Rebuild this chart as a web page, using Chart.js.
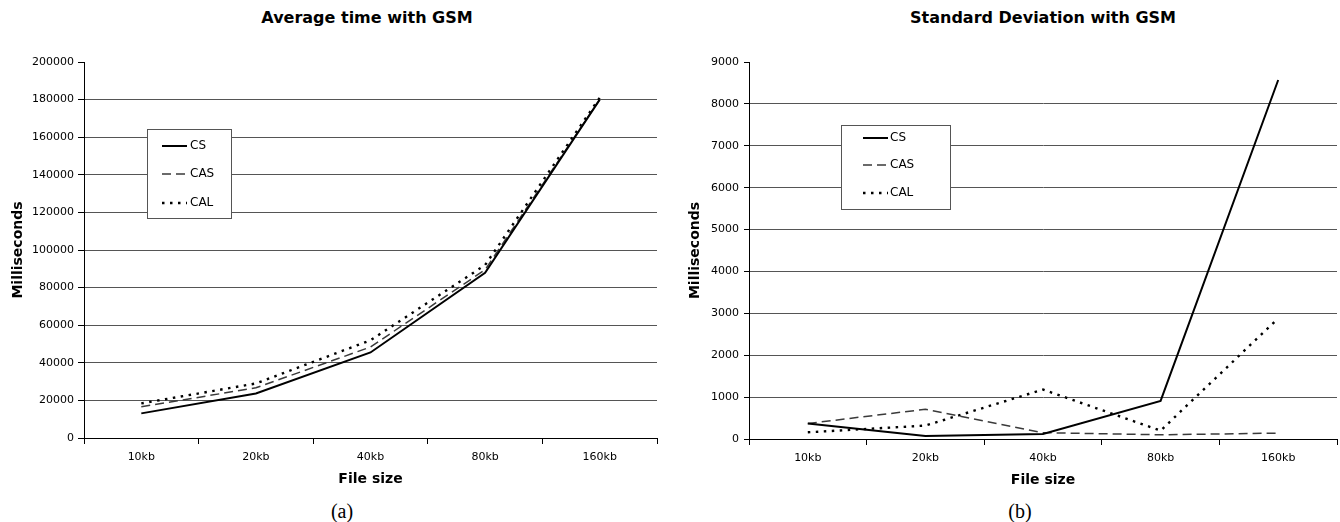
<!DOCTYPE html>
<html>
<head>
<meta charset="utf-8">
<script src="https://cdn.jsdelivr.net/npm/chart.js@4.4.1/dist/chart.umd.min.js"></script>
<style>
  html, body { margin: 0; padding: 0; background: #fff; }
  body { width: 1340px; height: 522px; position: relative; overflow: hidden; font-family: "DejaVu Sans", sans-serif; }
  .title { position: absolute; top: 8px; line-height: 20px; font-weight: bold; font-size: 16px; transform: translateX(-50%); white-space: nowrap; color: #000; }
  .cap { position: absolute; top: 500px; line-height: 22px; font-family: "Liberation Serif", "DejaVu Serif", serif; font-size: 20px; transform: translateX(-50%); color: #000; }
  .wrap { position: absolute; top: 0; width: 670px; height: 490px; }
  canvas { display: block; }
</style>
</head>
<body>
<div class="title" style="left:367px">Average time with GSM</div>
<div class="title" style="left:1043px">Standard Deviation with GSM</div>
<div class="wrap" style="left:0px"><canvas id="c1" width="670" height="490"></canvas></div>
<div class="wrap" style="left:670px"><canvas id="c2" width="670" height="490"></canvas></div>
<div class="cap" style="left:342px">(a)</div>
<div class="cap" style="left:1020px">(b)</div>
<script>
// ---- data ----
const categories = ['10kb', '20kb', '40kb', '80kb', '160kb'];
const seriesNames = ['CS', 'CAS', 'CAL'];

const avgCS  = [13100, 23700, 45500, 87900, 180000];
const avgCAS = [16600, 26700, 48400, 89500, 180000];
const avgCAL = [18400, 29000, 52000, 92000, 181000];

const sdCS  = [370, 70, 120, 910, 8570];
const sdCAS = [370, 710, 150, 100, 140];
const sdCAL = [160, 320, 1180, 200, 2880];

const avgAxis = { min: 0, max: 200000, step: 20000 };
const sdAxis  = { min: 0, max: 9000, step: 1000 };

// ---- styles ----
const seriesStyle = [
  { borderColor: '#000', borderWidth: 2, borderDash: [] },
  { borderColor: '#3a3a3a', borderWidth: 1.5, borderDash: [9, 5] },
  { borderColor: '#000', borderWidth: 2.4, borderDash: [2.5, 5.5] }
];
const FONT = '"DejaVu Sans", sans-serif';

const legendBox = {
  id: 'legendBox',
  afterDatasetsDraw(chart, args, o) {
    const ctx = chart.ctx;
    ctx.save();
    ctx.fillStyle = '#fff';
    ctx.fillRect(o.x, o.y, o.w, o.h);
    ctx.strokeStyle = '#555';
    ctx.lineWidth = 1;
    ctx.strokeRect(o.x + 0.5, o.y + 0.5, o.w, o.h);
    chart.data.datasets.forEach((ds, i) => {
      const yy = o.rows[i];
      ctx.beginPath();
      ctx.setLineDash(ds.borderDash || []);
      ctx.strokeStyle = ds.borderColor;
      ctx.lineWidth = ds.borderWidth;
      ctx.moveTo(o.x1, yy);
      ctx.lineTo(o.x2, yy);
      ctx.stroke();
      ctx.setLineDash([]);
      ctx.fillStyle = '#000';
      ctx.font = '12px ' + FONT;
      ctx.textBaseline = 'middle';
      ctx.textAlign = 'left';
      ctx.fillText(ds.label, o.tx, yy);
    });
    ctx.restore();
  }
};

function makeChart(id, values, axis, lay) {
  const datasets = values.map((v, i) => Object.assign({
    label: seriesNames[i],
    data: v,
    pointRadius: 0,
    tension: 0,
    fill: false
  }, seriesStyle[i]));

  return new Chart(document.getElementById(id), {
    type: 'line',
    data: { labels: categories, datasets },
    plugins: [legendBox],
    options: {
      responsive: false,
      animation: false,
      events: [],
      layout: { padding: lay.padding },
      plugins: {
        legend: { display: false },
        tooltip: { enabled: false },
        title: { display: false },
        legendBox: lay.legend
      },
      scales: {
        x: {
          type: 'category',
          offset: true,
          grid: { offset: true, drawOnChartArea: false, drawTicks: true, tickLength: 6, color: '#000', tickColor: '#000' },
          border: { color: '#000', width: 1 },
          ticks: { color: '#000', font: { family: FONT, size: 11 }, padding: 7, maxRotation: 0 },
          title: { display: true, text: 'File size', color: '#000', padding: 0, font: { family: FONT, size: 14, weight: 'bold' } },
          afterFit: s => { s.height = 50; }
        },
        y: {
          min: axis.min,
          max: axis.max,
          grid: {
            drawTicks: true,
            tickLength: lay.tickLen,
            color: c => (c.tick && c.tick.value === axis.max) ? 'rgba(0,0,0,0)' : '#555',
            tickColor: '#000',
            lineWidth: 1
          },
          border: { color: '#000', width: 1 },
          ticks: {
            stepSize: axis.step,
            color: '#000',
            font: { family: FONT, size: 11 },
            padding: lay.tickPad,
            callback: v => String(v)
          },
          title: { display: true, text: 'Milliseconds', color: '#000', padding: 0, font: { family: FONT, size: 14, weight: 'bold' } },
          afterFit: s => { s.width = lay.yWidth; }
        }
      }
    }
  });
}

makeChart('c1', [avgCS, avgCAS, avgCAL], avgAxis, {
  padding: { left: 10, right: 13, top: 62, bottom: 2 },
  yWidth: 74, tickLen: 6, tickPad: 4,
  legend: { x: 147, y: 129, w: 84, h: 89, rows: [146, 174, 203], x1: 162, x2: 187, tx: 190 }
});

makeChart('c2', [sdCS, sdCAS, sdCAL], sdAxis, {
  padding: { left: 17, right: 3, top: 62, bottom: 1 },
  yWidth: 62, tickLen: 5, tickPad: 5,
  legend: { x: 171, y: 125, w: 109, h: 84, rows: [138, 165, 193], x1: 193, x2: 218, tx: 220 }
});
</script>
</body>
</html>
